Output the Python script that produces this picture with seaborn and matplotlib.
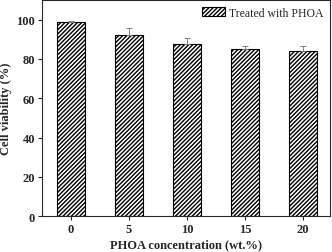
import matplotlib
matplotlib.use("Agg")
import matplotlib.pyplot as plt
import seaborn as sns
import pandas as pd
import numpy as np
from matplotlib.patches import Patch

# 数据
concentrations = ["0", "5", "10", "15", "20"]
viability = [99.0, 92.0, 87.8, 85.0, 84.0]
viability_err = [0.5, 3.8, 3.0, 1.5, 2.5]

sns.set_style("ticks")
plt.rcParams['font.family'] = ['Liberation Serif', 'DejaVu Serif']
plt.rcParams['hatch.linewidth'] = 1.0

df = pd.DataFrame({'conc': concentrations, 'viability': viability})

fig, ax = plt.subplots(figsize=(3.32, 2.53), dpi=100)
sns.barplot(data=df, x='conc', y='viability', color='white', edgecolor='black',
            linewidth=0.8, width=0.49, hatch='////////', errorbar=None, ax=ax)

# 误差棒 (只向上)
ax.errorbar(np.arange(len(viability)), viability,
            yerr=[np.zeros(len(viability_err)), viability_err],
            fmt='none', ecolor='gray', elinewidth=0.7, capsize=2, capthick=0.7)

ax.set_ylim(0, 110)
ax.set_xlim(-0.5, 4.47)
ax.set_yticks([0, 20, 40, 60, 80, 100])
ax.set_xlabel('PHOA concentration (wt.%)', fontsize=9, fontweight='bold', labelpad=2)
ax.set_ylabel('Cell viability (%)', fontsize=9, fontweight='bold', labelpad=3)
for lbl in ax.get_xticklabels() + ax.get_yticklabels():
    lbl.set_fontweight('bold')
ax.tick_params(labelsize=9, direction='out', length=3, width=0.8, pad=2)
for s in ax.spines.values():
    s.set_linewidth(0.8)
    s.set_visible(True)

handle = Patch(facecolor='white', edgecolor='black', hatch='////////', linewidth=0.8)
ax.legend([handle], ['Treated with PHOA'], loc='upper right', frameon=False,
          fontsize=8.5, handlelength=1.95, handleheight=0.8, handletextpad=0.35,
          borderaxespad=0.15)

fig.subplots_adjust(left=0.127, right=0.994, top=0.996, bottom=0.142)
fig.savefig("out.png", dpi=100)
